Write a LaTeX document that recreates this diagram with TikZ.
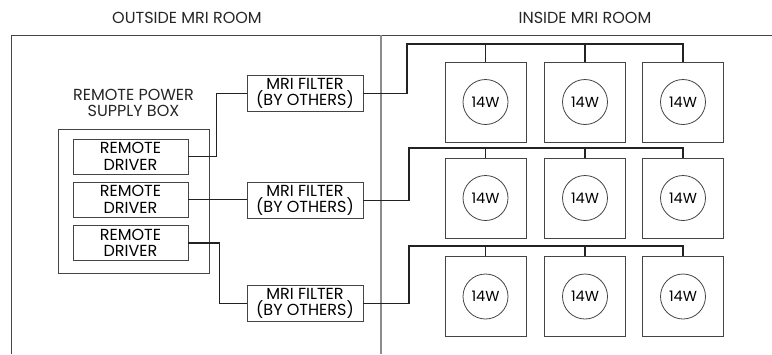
\documentclass[tikz,border=0pt]{standalone}
\usepackage{fontspec}
\setmainfont{Poppins}
\usetikzlibrary{positioning}

\definecolor{wire}{HTML}{222222}
\definecolor{edge}{HTML}{444444}
\definecolor{divider}{HTML}{8C8C8C}

\tikzset{
  boxnode/.style={draw=edge, line width=0.9pt, inner sep=0pt, align=center,
    font=\fontsize{16}{16.5}\selectfont},
  driverbox/.style={boxnode, minimum width=115pt, minimum height=35pt},
  filterbox/.style={boxnode, minimum width=116pt, minimum height=36pt},
  fixture/.style={draw=edge, line width=0.9pt, minimum width=81pt, minimum height=80pt},
  lamp/.style={draw=edge, circle, line width=0.8pt, minimum size=45pt, inner sep=0pt,
    font=\fontsize{14.5}{15}\selectfont},
  wireline/.style={draw=wire, line width=1.3pt},
  roomlabel/.style={font=\fontsize{16}{16.5}\selectfont, text=black!85}
}

\begin{document}
\begin{tikzpicture}[x=1pt, y=-1pt]
\useasboundingbox (0,0) rectangle (772,354);

% Room frame
\draw[edge, line width=0.9pt] (11,354) -- (11,35) -- (772,35);
\draw[divider, line width=1.2pt] (381,35) -- (381,354);
\node[roomlabel] (outside) at (187,18) {OUTSIDE MRI ROOM};
\node[roomlabel] (inside) at (585,18) {INSIDE MRI ROOM};

% Power supply box
\node[draw=edge, line width=0.9pt, minimum width=151pt, minimum height=144pt] (psu) at (133.5,201) {};
\node[roomlabel, align=center, above=8pt of psu.north] (psulabel) {REMOTE POWER\\SUPPLY BOX};

% Drivers
\node[driverbox] (d1) at (130.5,156.5) {REMOTE\\DRIVER};
\node[driverbox] (d2) at (130.5,199.5) {REMOTE\\DRIVER};
\node[driverbox] (d3) at (130.5,243) {REMOTE\\DRIVER};

% Filters
\node[filterbox] (f1) at (305,93.5) {MRI FILTER\\(BY OTHERS)};
\node[filterbox] (f2) at (305,200.5) {MRI FILTER\\(BY OTHERS)};
\node[filterbox] (f3) at (305,303.5) {MRI FILTER\\(BY OTHERS)};

% Fixtures
\foreach \r/\y in {1/102,2/198,3/296.5}{
  \foreach \c/\x in {1/485.5,2/585,3/683}{
    \node[fixture] (x\r\c) at (\x,\y) {};
    \node[lamp] (l\r\c) at (x\r\c) {14W};
  }
}

% Bus points
\coordinate (b1) at (407,44);
\coordinate (b2) at (409,148);
\coordinate (b3) at (409,246);

% Wiring
\draw[wireline] (d1.east) -- ++(28,0) |- (f1.west);
\draw[wireline] (d2.east) -- (d2.east -| f2.west);
\draw[wireline] (d3.east) -- ++(31,0) |- (f3.west);
\foreach \r in {1,2,3}{
  \draw[wireline] (f\r.east) -| (b\r) -| (x\r3.north);
  \foreach \c in {1,2}
    \draw[wireline] (x\r\c.north) -- (x\r\c.north |- b\r);
}
\end{tikzpicture}
\end{document}
